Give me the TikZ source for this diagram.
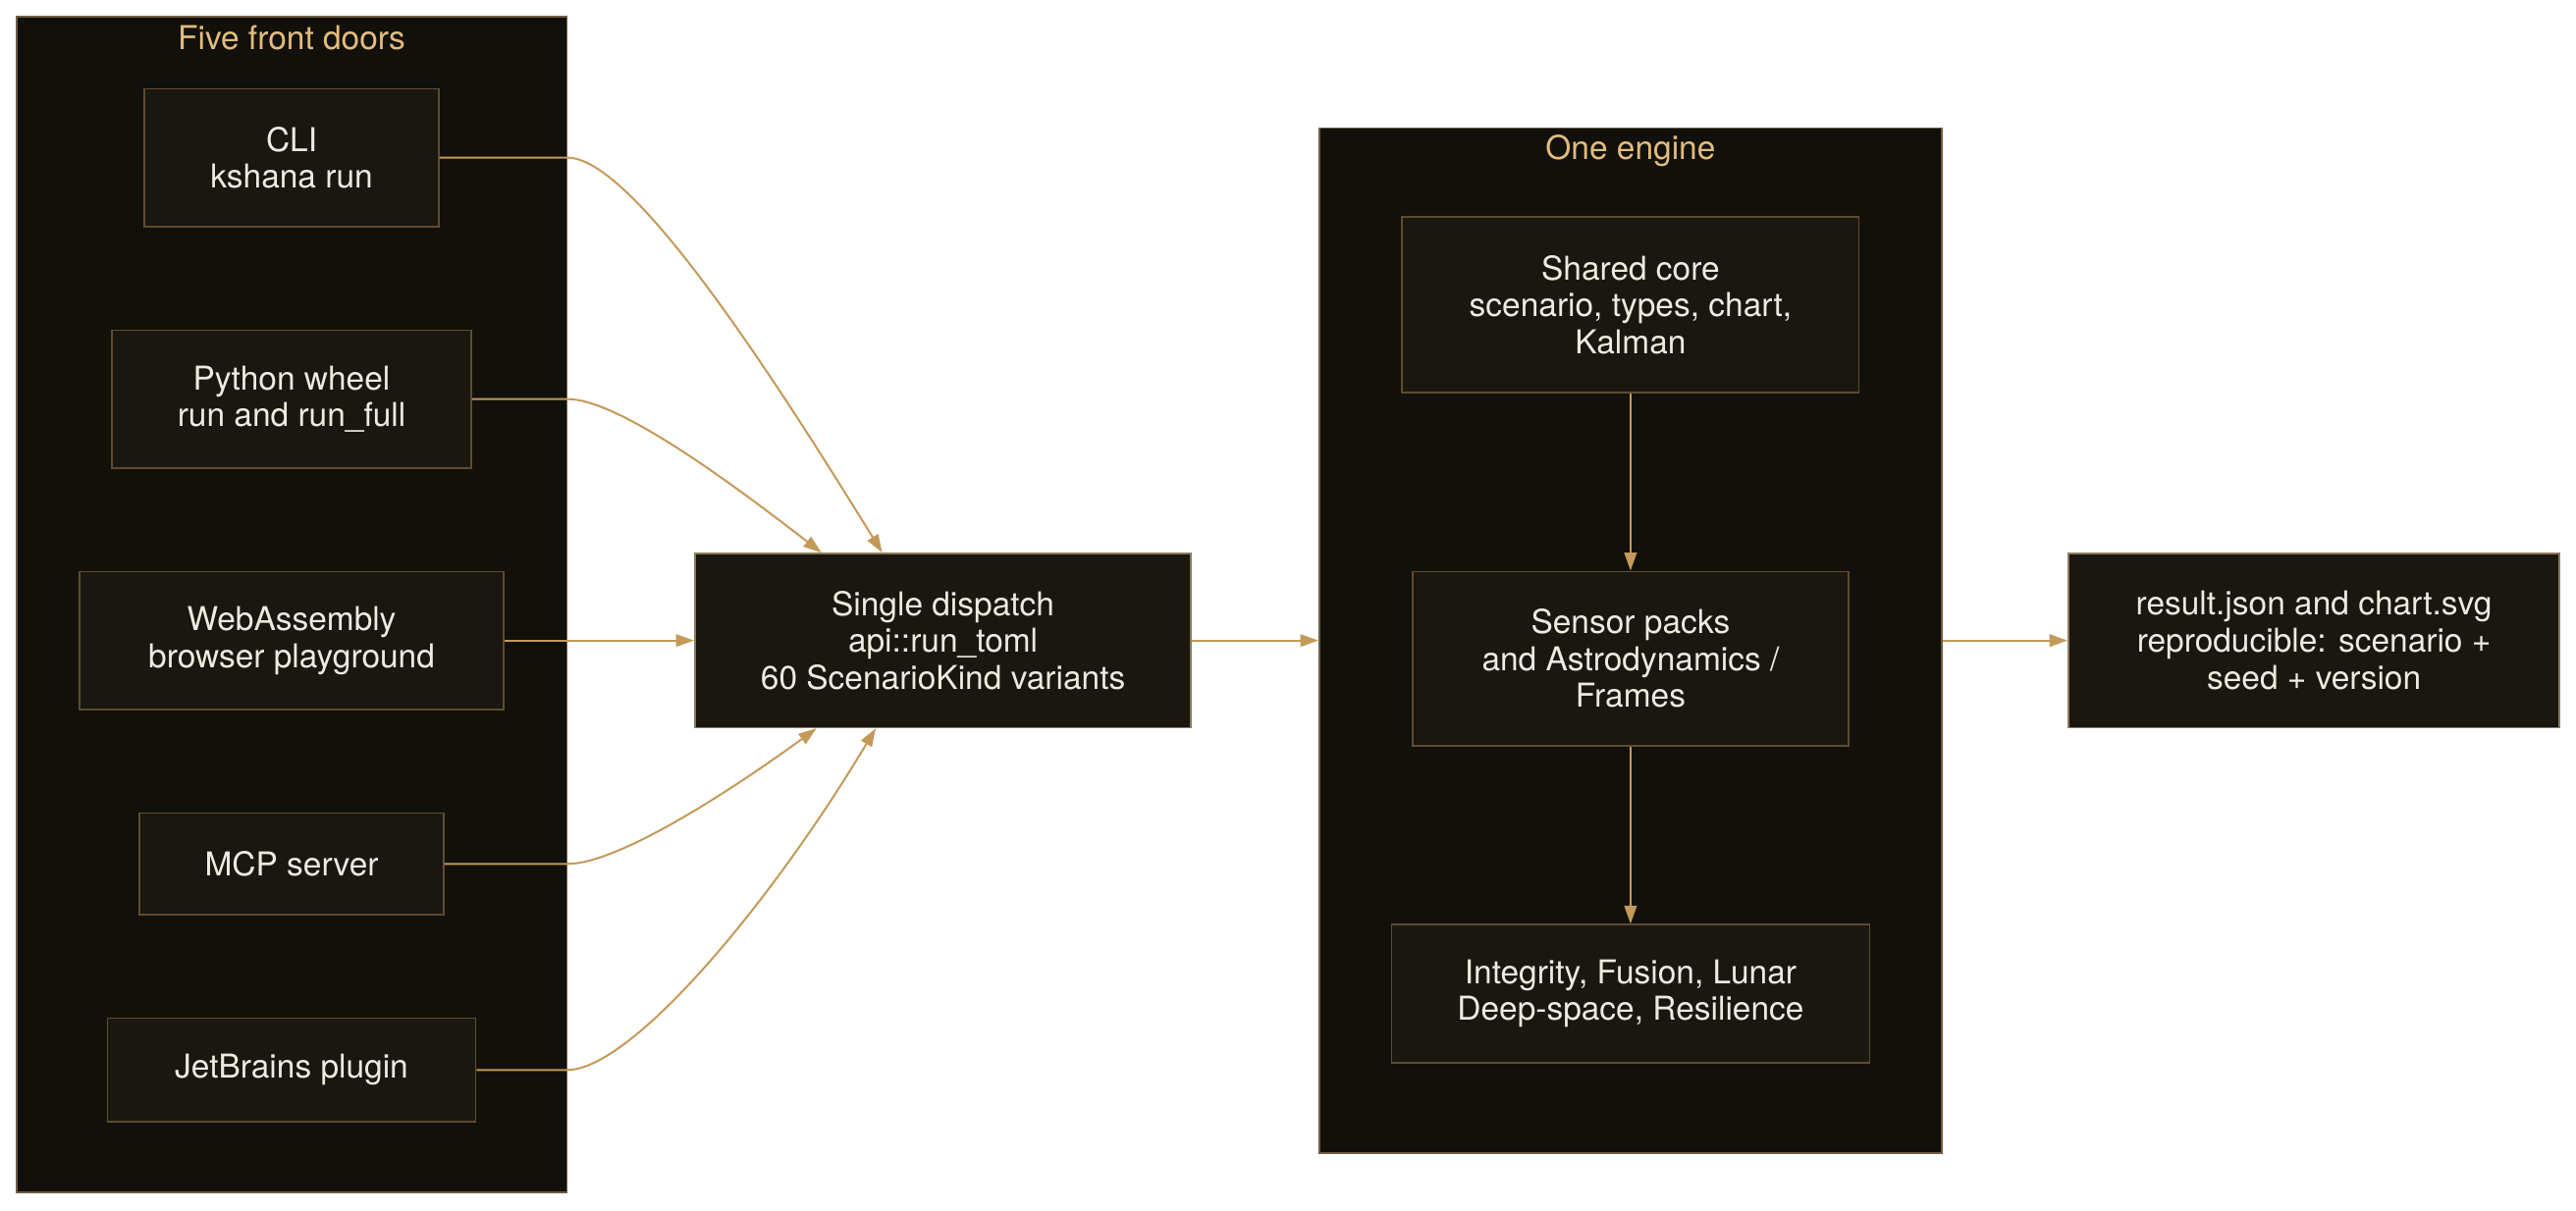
\documentclass[tikz,border=0pt]{standalone}
\usepackage{fontspec}
\setmainfont{TeX Gyre Heros}
\usetikzlibrary{arrows.meta}

\definecolor{panel}{HTML}{12100B}
\definecolor{boxfill}{HTML}{1A1710}
\definecolor{boxline}{HTML}{5E4C2F}
\definecolor{panelline}{HTML}{6E5E44}
\definecolor{hubline}{HTML}{8C7B5C}
\definecolor{gold}{HTML}{C49A5A}
\definecolor{titlegold}{HTML}{E2BC7E}
\definecolor{ink}{HTML}{EFEADF}

\tikzset{
  cluster/.style={draw=panelline, fill=panel, line width=1pt, inner sep=0pt},
  clustertitle/.style={text=titlegold, font=\fontsize{20}{22.5}\selectfont, inner sep=0pt},
  door/.style={draw=boxline, fill=boxfill, line width=1pt, text=ink, align=center,
    font=\fontsize{20}{22.5}\selectfont, inner sep=0pt},
  hub/.style={door, draw=hubline},
  flow/.style={draw=gold, line width=1.2pt, -{Triangle[length=11pt,width=7.5pt]}},
}

\begin{document}
\begin{tikzpicture}[x=1pt,y=-1pt]
\useasboundingbox (0,0) rectangle (1568,737);
% clusters
\node[cluster, minimum width=335pt, minimum height=716pt] (doors) at (177.5,368) {};
\node[clustertitle] (doorstitle) at (177.5,23) {Five front doors};
\node[cluster, minimum width=379pt, minimum height=624pt] (engine) at (992.5,390) {};
\node[clustertitle] (enginetitle) at (992.5,92) {One engine};

% front doors
\foreach \name/\y/\w/\h/\txt in {cli/96/179/84/{CLI\\kshana run},
    wheel/243/219/84/{Python wheel\\run and run\_full},
    wasm/390/258/84/{WebAssembly\\browser playground},
    mcp/526/185/62/{MCP server},
    jetbrains/651.5/224/63/{JetBrains plugin}} {
\node[door, minimum width=\w pt, minimum height=\h pt] (\name) at (177.5,\y) {\txt};
}

% dispatch and output
\node[hub, minimum width=302pt, minimum height=106pt] (dispatch) at (574,390)
  {Single dispatch\\api::run\_toml\\60 ScenarioKind variants};
\node[hub, minimum width=299pt, minimum height=106pt] (result) at (1408.5,390)
  {result.json and chart.svg\\reproducible: scenario +\\seed + version};

% engine stages
\node[door, minimum width=278pt, minimum height=107pt] (core) at (992.5,185.5)
  {Shared core\\scenario, types, chart,\\Kalman};
\node[door, minimum width=265pt, minimum height=106pt] (sensors) at (992.5,401)
  {Sensor packs\\and Astrodynamics /\\Frames};
\node[door, minimum width=291pt, minimum height=84pt] (suites) at (992.5,605)
  {Integrity, Fusion, Lunar\\Deep-space, Resilience};

% connectors
\draw[flow] (cli.east) -- (cli.east -| doors.east)
  .. controls (385,96) and (470,228) .. ([xshift=-37pt]dispatch.north);
\draw[flow] (wheel.east) -- (wheel.east -| doors.east)
  .. controls (375,243) and (440,290) .. ([xshift=-74pt]dispatch.north);
\draw[flow] (wasm.east) -- (dispatch.west);
\draw[flow] (mcp.east) -- (mcp.east -| doors.east)
  .. controls (375,526) and (440,485) .. ([xshift=-77pt]dispatch.south);
\draw[flow] (jetbrains.east) -- (jetbrains.east -| doors.east)
  .. controls (385,651) and (470,549) .. ([xshift=-41pt]dispatch.south);
\draw[flow] (dispatch.east) -- (engine.west);
\draw[flow] (engine.east) -- (result.west);
\draw[flow] (core) -- (sensors);
\draw[flow] (sensors) -- (suites);
\end{tikzpicture}
\end{document}
